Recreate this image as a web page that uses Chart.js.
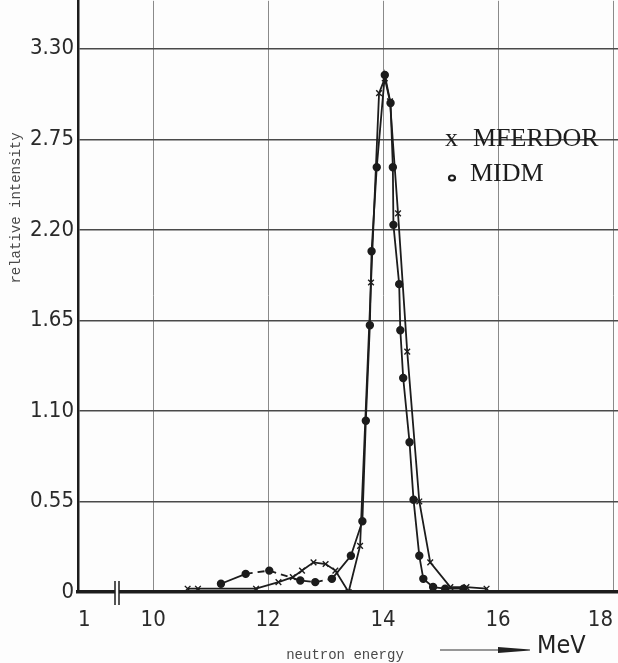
<!DOCTYPE html>
<html>
<head>
<meta charset="utf-8">
<script src="https://cdn.jsdelivr.net/npm/chart.js@4.4.0/dist/chart.umd.min.js"></script>
<style>
  html, body { margin: 0; padding: 0; background: #fdfdfd; overflow: hidden; }
  #grafico { display: block; margin-top: -5px; }
</style>
</head>
<body>
<canvas id="grafico" width="624" height="668"></canvas>
<script>
// values (MeV, relative intensity)
const energiaMferdor = [10.60, 10.78, 11.79, 12.18, 12.43, 12.59, 12.79, 13.00, 13.17, 13.40, 13.60, 13.79, 13.93, 14.03, 14.12, 14.26, 14.42, 14.63, 14.82, 15.17, 15.45, 15.80]
const intensMferdor  = [0.02, 0.02, 0.02, 0.06, 0.09, 0.13, 0.18, 0.17, 0.13, 0.00, 0.28, 1.88, 3.03, 3.12, 2.98, 2.30, 1.46, 0.55, 0.18, 0.03, 0.03, 0.02]

const energiaMidm = [11.18, 11.61, 12.02, 12.56, 12.82, 13.11, 13.44, 13.64, 13.70, 13.77, 13.80, 13.89, 14.03, 14.13, 14.17, 14.18, 14.28, 14.30, 14.35, 14.46, 14.53, 14.63, 14.70, 14.87, 15.08, 15.40]
const intensMidm  = [0.05, 0.11, 0.13, 0.07, 0.06, 0.08, 0.22, 0.43, 1.04, 1.62, 2.07, 2.58, 3.14, 2.97, 2.58, 2.23, 1.87, 1.59, 1.30, 0.91, 0.56, 0.22, 0.08, 0.03, 0.02, 0.02]

const ticksY = [0, 0.55, 1.10, 1.65, 2.20, 2.75, 3.30]
const ticksX = [10, 12, 14, 16, 18]
const labelQuebra = '1'   // label at the broken start of the axis
const inicioX = 8.693     // where the broken axis starts
const fimX = 18.09
const topoY = 3.591

const pontos = (xs, ys) => xs.map((x, i) => ({ x: x, y: ys[i] }))

const fonteEixo = { family: '"Liberation Sans Narrow", "DejaVu Sans Condensed", sans-serif', size: 22 }
const tinta = '#1c1c1c'

const extras = {
  id: 'extras',
  beforeDraw(chart) {
    const c = chart.ctx
    c.save()
    c.fillStyle = '#fdfdfd'
    c.fillRect(0, 0, chart.width, chart.height)
    c.restore()
  },
  afterDraw(chart) {
    const c = chart.ctx
    const base = chart.scales.y.getPixelForValue(0)
    const dy = 5  // canvas is shifted up by 5px
    c.save()
    // axis break
    c.fillStyle = '#fdfdfd'
    c.fillRect(115, base - 3, 4, 6)
    c.strokeStyle = tinta
    c.lineWidth = 1.5
    c.beginPath()
    c.moveTo(115, base - 11); c.lineTo(115, base + 13)
    c.moveTo(119, base - 11); c.lineTo(119, base + 13)
    c.stroke()

    // axis titles
    c.fillStyle = '#4a4a4a'
    c.font = '14px "Liberation Mono", "DejaVu Sans Mono", monospace'
    c.textAlign = 'center'
    c.textBaseline = 'middle'
    c.fillText('neutron energy', 345, 655 + dy)
    c.save()
    c.translate(16, 208 + dy)
    c.rotate(-Math.PI / 2)
    c.fillText('relative intensity', 0, 0)
    c.restore()

    // arrow + unit
    c.strokeStyle = '#333'
    c.lineWidth = 1.2
    c.beginPath()
    c.moveTo(440, 650 + dy); c.lineTo(505, 650 + dy)
    c.stroke()
    c.fillStyle = '#222'
    c.beginPath()
    c.moveTo(498, 647 + dy); c.lineTo(530, 649.5 + dy); c.lineTo(530, 650.5 + dy); c.lineTo(498, 653 + dy)
    c.closePath()
    c.fill()
    c.font = '25px "Liberation Sans Narrow", "DejaVu Sans Condensed", sans-serif'
    c.textAlign = 'left'
    c.fillText('MeV', 537, 646 + dy)

    // legend
    c.fillStyle = tinta
    c.font = '26px "Liberation Serif", "DejaVu Serif", serif'
    c.textBaseline = 'alphabetic'
    c.fillText('x', 445, 146 + dy)
    c.fillText('MFERDOR', 473, 146 + dy)
    c.fillText('MIDM', 470, 181 + dy)
    c.lineWidth = 2.2
    c.strokeStyle = tinta
    c.beginPath()
    c.ellipse(452, 178 + dy, 3, 2.5, 0, 0, Math.PI * 2)
    c.stroke()
    c.restore()
  }
}

const grafico = new Chart(document.getElementById('grafico'), {
  type: 'line',
  data: {
    datasets: [
      {
        label: 'MFERDOR',
        data: pontos(energiaMferdor, intensMferdor),
        borderColor: tinta,
        borderWidth: 1.8,
        pointStyle: 'crossRot',
        pointRadius: 4,
        pointBorderWidth: 1.4,
        pointBorderColor: tinta,
        tension: 0
      },
      {
        label: 'MIDM',
        data: pontos(energiaMidm, intensMidm),
        borderColor: tinta,
        borderWidth: 1.8,
        pointStyle: 'circle',
        pointRadius: 3.3,
        pointBackgroundColor: tinta,
        pointBorderColor: tinta,
        tension: 0,
        segment: {
          borderDash: ctx => ctx.p1.parsed.x <= 13.12 && ctx.p0.parsed.x > 11.5 ? [7, 5] : undefined
        }
      }
    ]
  },
  options: {
    responsive: false,
    animation: false,
    layout: { padding: 0 },
    plugins: {
      legend: { display: false },
      tooltip: { enabled: false }
    },
    scales: {
      x: {
        type: 'linear',
        min: inicioX,
        max: fimX,
        afterBuildTicks: s => { s.ticks = [inicioX].concat(ticksX).map(v => ({ value: v })) },
        afterFit: s => { s.height = 71; s.paddingLeft = 0; s.paddingRight = 0 },
        ticks: {
          autoSkip: false,
          maxRotation: 0,
          align: 'inner',
          padding: 15,
          color: '#2a2a2a',
          font: fonteEixo,
          callback: v => v < 9 ? labelQuebra : String(v)
        },
        grid: { color: '#8a8a8a', lineWidth: 1, drawTicks: false },
        border: { display: true, color: tinta, width: 3.5 }
      },
      y: {
        min: 0,
        max: topoY,
        afterBuildTicks: s => { s.ticks = ticksY.map(v => ({ value: v })) },
        afterFit: s => { s.width = 78; s.paddingTop = 0; s.paddingBottom = 0 },
        ticks: {
          autoSkip: false,
          padding: 4,
          color: '#2a2a2a',
          font: fonteEixo,
          callback: v => v === 0 ? '0' : v.toFixed(2)
        },
        grid: { color: '#4a4a4a', lineWidth: 1.4, drawTicks: false },
        border: { display: true, color: tinta, width: 2.5 }
      }
    }
  },
  plugins: [extras]
})
</script>
</body>
</html>
